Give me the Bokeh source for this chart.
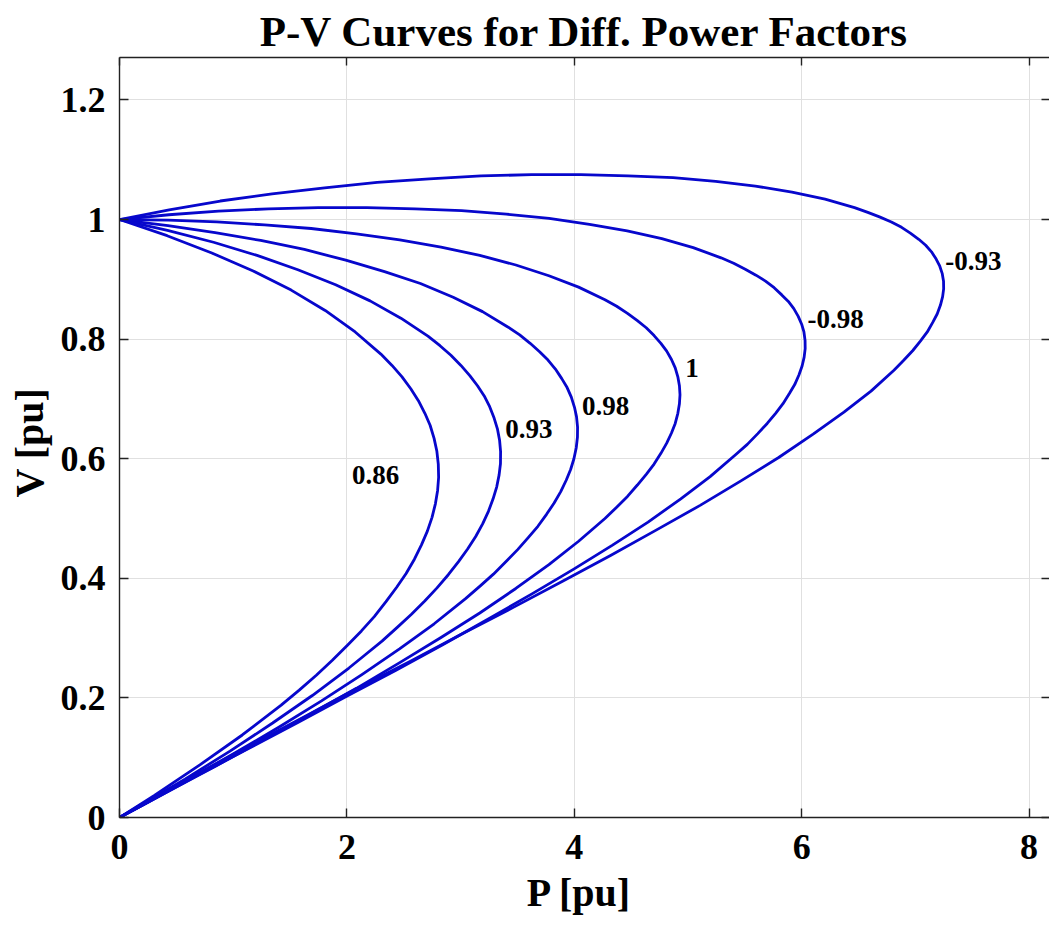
from bokeh.plotting import figure
from bokeh.models import Range1d, FixedTicker, LinearAxis
from bokeh.core.properties import value
from bokeh.embed import file_html
from bokeh.resources import INLINE

# ---------------- data ----------------
P_086 = [0, 0.419, 0.812, 1.176, 1.510, 1.809, 2.073, 2.299,
         2.397, 2.485, 2.562, 2.629, 2.686, 2.732, 2.767, 2.791, 2.804, 2.807,
         2.798, 2.779, 2.749, 2.708, 2.656, 2.594, 2.521, 2.438, 2.344, 2.241,
         2.128, 2.005, 1.872, 1.731, 1.581, 1.422,
         1.080, 0.707, 0.307, 0]
V_086 = [1, 0.973, 0.944, 0.914, 0.882, 0.848, 0.812, 0.775,
         0.756, 0.737, 0.717, 0.697, 0.676, 0.656, 0.634, 0.613, 0.591, 0.569,
         0.547, 0.525, 0.502, 0.479, 0.456, 0.432, 0.408, 0.385, 0.361, 0.336,
         0.312, 0.288, 0.263, 0.238, 0.213, 0.188,
         0.138, 0.088, 0.037, 0]

P_093 = [0, 0.422, 0.827, 1.210, 1.569, 1.901, 2.204, 2.475, 2.713,
         2.819, 2.915, 3.003, 3.081, 3.149, 3.208, 3.256, 3.295, 3.324, 3.343,
         3.352, 3.351, 3.339, 3.318, 3.286, 3.245, 3.194, 3.133, 3.062, 2.982,
         2.892, 2.793, 2.685, 2.568, 2.443, 2.309, 2.167, 2.018,
         1.696, 1.347, 0.972, 0.576, 0.160, 0]
V_093 = [1, 0.982, 0.962, 0.940, 0.916, 0.891, 0.864, 0.835, 0.805,
         0.789, 0.773, 0.756, 0.739, 0.722, 0.705, 0.687, 0.668, 0.650, 0.631,
         0.612, 0.592, 0.573, 0.553, 0.533, 0.512, 0.491, 0.470, 0.449, 0.428,
         0.406, 0.384, 0.362, 0.340, 0.318, 0.295, 0.273, 0.250,
         0.204, 0.158, 0.111, 0.064, 0.018, 0]

P_098 = [0, 0.426, 0.841, 1.242, 1.626, 1.990, 2.331, 2.647, 2.935, 3.193, 3.419,
         3.520, 3.612, 3.695, 3.769, 3.834, 3.890, 3.937, 3.974, 4.002, 4.020,
         4.029, 4.028, 4.017, 3.997, 3.968, 3.929, 3.881, 3.823, 3.756, 3.680,
         3.595, 3.502, 3.400, 3.289, 3.171, 3.044,
         2.768, 2.463, 2.132, 1.777, 1.401, 1.007, 0.597, 0.175, 0]
V_098 = [1, 0.990, 0.978, 0.965, 0.950, 0.932, 0.913, 0.893, 0.870, 0.846, 0.820,
         0.807, 0.793, 0.779, 0.765, 0.750, 0.734, 0.719, 0.703, 0.686, 0.670,
         0.653, 0.636, 0.618, 0.600, 0.582, 0.564, 0.545, 0.526, 0.507, 0.487,
         0.468, 0.448, 0.428, 0.407, 0.387, 0.366,
         0.324, 0.282, 0.239, 0.195, 0.151, 0.107, 0.063, 0.018, 0]

P_100 = [0, 0.430, 0.856, 1.276, 1.686, 2.084, 2.465, 2.828, 3.169, 3.486, 3.777, 4.038, 4.270,
         4.373, 4.468, 4.555, 4.633, 4.702, 4.762, 4.813, 4.855, 4.888, 4.911, 4.925, 4.930,
         4.925, 4.911, 4.888, 4.855, 4.813, 4.762, 4.702, 4.633, 4.555, 4.468, 4.373,
         4.270, 4.038, 3.777, 3.486, 3.169, 2.828, 2.465, 2.084, 1.686, 1.276, 0.856, 0.430, 0]
V_100 = [1, 0.999, 0.996, 0.991, 0.985, 0.976, 0.966, 0.954, 0.940, 0.924, 0.906, 0.887, 0.866,
         0.855, 0.843, 0.831, 0.819, 0.806, 0.793, 0.780, 0.766, 0.752, 0.737, 0.722, 0.707,
         0.692, 0.676, 0.659, 0.643, 0.626, 0.609, 0.591, 0.574, 0.556, 0.537, 0.519,
         0.500, 0.462, 0.423, 0.383, 0.342, 0.301, 0.259, 0.216, 0.174, 0.131, 0.087, 0.044, 0]

P_M098 = [0, 0.434, 0.871, 1.310, 1.747, 2.177, 2.599, 3.009, 3.403, 3.779, 4.134, 4.465, 4.770,
          5.046, 5.291,
          5.402, 5.504, 5.598, 5.682, 5.758, 5.825, 5.883, 5.931, 5.970, 6.000, 6.020, 6.030,
          6.031, 6.022, 6.004, 5.976, 5.939, 5.892, 5.836, 5.771, 5.697, 5.614, 5.522,
          5.421, 5.195, 4.937, 4.649, 4.333, 3.992, 3.628, 3.244, 2.843, 2.428, 2.002,
          1.569, 1.131, 0.692, 0.256, 0]
V_M098 = [1, 1.008, 1.014, 1.018, 1.020, 1.020, 1.018, 1.015, 1.009, 1.002, 0.992, 0.981, 0.968,
          0.953, 0.936,
          0.927, 0.917, 0.907, 0.897, 0.886, 0.874, 0.863, 0.851, 0.838, 0.825, 0.812, 0.798,
          0.784, 0.770, 0.755, 0.740, 0.724, 0.709, 0.692, 0.676, 0.659, 0.642, 0.624,
          0.607, 0.570, 0.533, 0.494, 0.455, 0.415, 0.374, 0.332, 0.289, 0.246, 0.203,
          0.159, 0.115, 0.071, 0.026, 0]

P_M093 = [0, 0.437, 0.886, 1.342, 1.804, 2.266, 2.726, 3.180, 3.625, 4.057, 4.473, 4.869, 5.244,
          5.593, 5.915, 6.206, 6.465,
          6.582, 6.690, 6.789, 6.879, 6.959, 7.030, 7.091, 7.142, 7.183, 7.215, 7.236, 7.248,
          7.249, 7.240, 7.221, 7.192, 7.153, 7.105, 7.046, 6.978, 6.900,
          6.812, 6.610, 6.372, 6.101, 5.798, 5.466, 5.107, 4.724, 4.319, 3.897, 3.460, 3.011,
          2.555, 2.093, 1.631, 1.171, 0.717, 0.272, 0]
V_M093 = [1, 1.016, 1.031, 1.043, 1.053, 1.062, 1.068, 1.073, 1.075, 1.075, 1.073, 1.070, 1.064,
          1.056, 1.046, 1.034, 1.020,
          1.012, 1.004, 0.996, 0.987, 0.977, 0.967, 0.957, 0.946, 0.934, 0.922, 0.910, 0.897,
          0.884, 0.871, 0.857, 0.842, 0.828, 0.812, 0.797, 0.781, 0.765,
          0.748, 0.713, 0.678, 0.641, 0.602, 0.563, 0.522, 0.481, 0.438, 0.395, 0.351, 0.307,
          0.261, 0.216, 0.169, 0.123, 0.076, 0.029, 0]

PF_LABELS = ["0.86", "0.93", "0.98", "1", "-0.98", "-0.93"]
LABEL_P = [2.044, 3.392, 4.067, 4.976, 6.052, 7.263]
LABEL_V = [0.572, 0.650, 0.689, 0.752, 0.834, 0.930]

X_TICKS = [0, 2, 4, 6, 8]
X_TICK_LABELS = ["0", "2", "4", "6", "8"]
Y_TICKS = [0, 0.2, 0.4, 0.6, 0.8, 1, 1.2]
Y_TICK_LABELS = ["0", "0.2", "0.4", "0.6", "0.8", "1", "1.2"]

TITLE = "P-V Curves for Diff. Power Factors"
X_LABEL = "P  [pu]"
Y_LABEL = "V  [pu]"

# ---------------- figure ----------------
FONT = "Liberation Serif"
LINE_COLOR = "#0707cc"
AX_COLOR = "#222222"

p = figure(width=1049, height=925, output_backend="svg", toolbar_location=None,
           x_range=Range1d(0, 8.18), y_range=Range1d(0, 1.271),
           min_border_left=119, min_border_right=0, min_border_top=57, min_border_bottom=108,
           background_fill_color="white", border_fill_color="white")
p.outline_line_color = None

p.title.text = TITLE
p.title.align = "center"
p.title.text_font = FONT
p.title.text_font_size = "43px"
p.title.text_font_style = "bold"
p.title.text_color = "black"
p.title.standoff = 6

xt = FixedTicker(ticks=X_TICKS)
yt = FixedTicker(ticks=Y_TICKS)
x_over = {t: s for t, s in zip(X_TICKS, X_TICK_LABELS)}
y_over = {t: s for t, s in zip(Y_TICKS, Y_TICK_LABELS)}

for ax, tk, ov, lab in ((p.xaxis[0], xt, x_over, X_LABEL), (p.yaxis[0], yt, y_over, Y_LABEL)):
    ax.ticker = tk
    ax.major_label_overrides = ov
    ax.axis_label = lab
    ax.axis_label_text_font = FONT
    ax.axis_label_text_font_size = "40px"
    ax.axis_label_text_font_style = "bold"
    ax.axis_label_text_color = "black"
    ax.major_label_text_font = FONT
    ax.major_label_text_font_size = "36px"
    ax.major_label_text_font_style = "bold"
    ax.major_label_text_color = "black"
    ax.major_tick_in = 9
    ax.major_tick_out = 0
    ax.minor_tick_in = 0
    ax.minor_tick_out = 0
    ax.axis_line_color = AX_COLOR
    ax.axis_line_width = 1.4
    ax.major_tick_line_color = AX_COLOR
    ax.major_tick_line_width = 1.4

p.xaxis[0].major_label_standoff = 17
p.xaxis[0].axis_label_standoff = 8
p.yaxis[0].major_label_standoff = 14
p.yaxis[0].axis_label_standoff = 6

top_ax = LinearAxis(ticker=FixedTicker(ticks=X_TICKS), major_label_text_font_size="1px",
                    major_label_text_color=None, major_label_standoff=0,
                    major_tick_in=8, major_tick_out=0, minor_tick_in=0, minor_tick_out=0,
                    axis_line_color=AX_COLOR, axis_line_width=1.4,
                    major_tick_line_color=AX_COLOR, major_tick_line_width=1.4)
right_ax = LinearAxis(ticker=FixedTicker(ticks=Y_TICKS), major_label_text_font_size="1px",
                      major_label_text_color=None, major_label_standoff=0,
                      major_tick_in=8, major_tick_out=0, minor_tick_in=0, minor_tick_out=0,
                      axis_line_color=None,
                      major_tick_line_color=AX_COLOR, major_tick_line_width=1.4)
p.add_layout(top_ax, "above")
p.add_layout(right_ax, "right")

p.xgrid.ticker = xt
p.ygrid.ticker = yt
p.xgrid.grid_line_color = "#e0e0e0"
p.ygrid.grid_line_color = "#e0e0e0"
p.xgrid.grid_line_width = 1
p.ygrid.grid_line_width = 1

for P, V in ((P_086, V_086), (P_093, V_093), (P_098, V_098), (P_100, V_100),
             (P_M098, V_M098), (P_M093, V_M093)):
    p.line(P, V, line_color=LINE_COLOR, line_width=2.8, line_join="round")

p.text(x=LABEL_P, y=LABEL_V, text=PF_LABELS, text_font=value(FONT), text_font_style="bold",
       text_font_size="27px", text_baseline="middle", text_align="left", text_color="black")

open("out.html", "w").write(file_html(p, INLINE))
